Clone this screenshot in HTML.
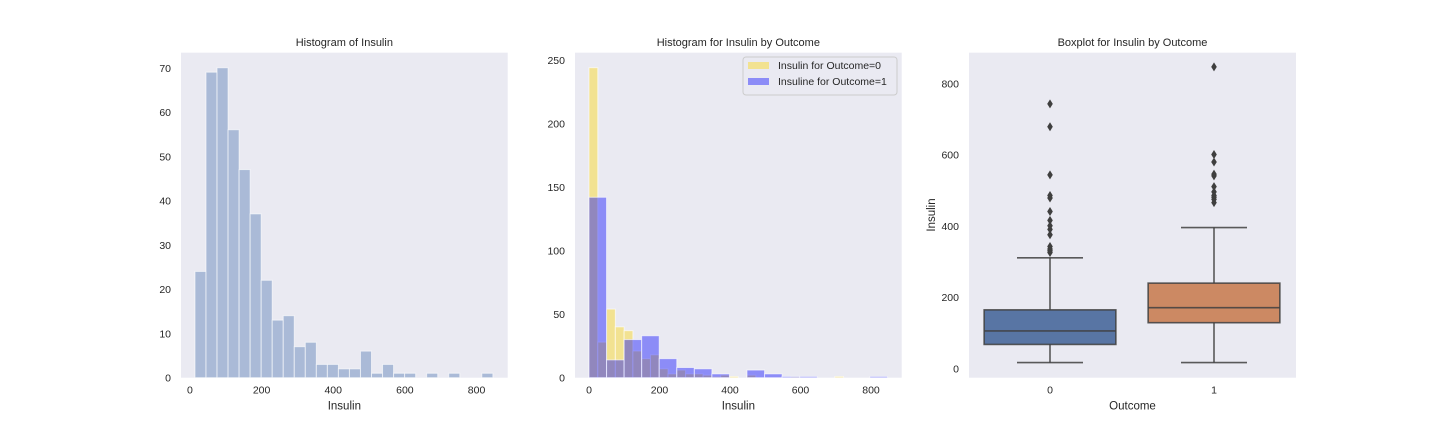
<!DOCTYPE html>
<html><head><meta charset="utf-8"><style>
body{margin:0;background:#fff;}
svg{display:block;font-family:"Liberation Sans","DejaVu Sans",sans-serif;}
</style></head><body>
<svg id="fig" width="1440" height="432" xmlns="http://www.w3.org/2000/svg"></svg>
<script>
// Panel 1 data
const h1Start = 14, h1Width = 30.8;
const h1Counts = [24,69,70,56,47,37,22,13,14,7,8,3,3,2,2,6,1,3,1,1,0,1,0,1,0,0,1];
// Panel 2 data
const h0Start = 0, h0Width = 24.9;
const h0Counts = [244,28,54,40,37,21,15,18,7,3,6,3,3,2,1,2,1,0,2,0,0,0,0,1,0,0,0,0,1,0];
const hbStart = 0, hbWidth = 49.8;
const hbCounts = [142,14,30,33,15,8,7,3,0,6,3,1,1,0,0,0,1];
// Panel 3 data
const boxCats = ["0","1"];
const boxQ1 = [67,128], boxMed = [105,170], boxQ3 = [164,239], boxLo = [16,16], boxHi = [310,395];
const outliers0 = [742,678,543,485,478,440,415,400,390,375,342,335,330,325];
const outliers1 = [846,600,579,545,540,510,495,485,480,474,465];
const ticks1x = [0,200,400,600,800], ticks1y = [0,10,20,30,40,50,60,70];
const ticks2y = [0,50,100,150,200,250], ticks3y = [0,200,400,600,800];

const NS="http://www.w3.org/2000/svg", svg=document.getElementById('fig');
function mk(tag,attrs,parent,text){const e=document.createElementNS(NS,tag);for(const k in attrs)e.setAttribute(k,attrs[k]);if(text!==undefined)e.textContent=text;(parent||svg).appendChild(e);return e;}
const TOP=52.7,BOT=377.7;
function axes(name,L,R,xmin,xmax,ymin,ymax){
  const g=mk('g',{});
  mk('rect',{x:L,y:TOP,width:R-L,height:BOT-TOP,fill:'#EAEAF2'},g);
  return {g,L,R,x:v=>L+(v-xmin)/(xmax-xmin)*(R-L),y:v=>BOT-(v-ymin)/(ymax-ymin)*(BOT-TOP)};
}
function xticks(a,ticks,labels){ticks.forEach((t,i)=>{const e=mk('text',{x:a.x(t),y:BOT+16,'font-size':10.5,fill:'#262626','text-anchor':'middle'},a.g,labels?labels[i]:t);});}
function yticks(a,ticks){ticks.forEach(t=>{const e=mk('text',{x:a.L-10,y:a.y(t)+4,'font-size':10.5,fill:'#262626','text-anchor':'end'},a.g,t);});}
function title(a,t){const e=mk('text',{x:(a.L+a.R)/2,y:46,'font-size':11,fill:'#262626','text-anchor':'middle'},a.g,t);}
function xlabel(a,t){const e=mk('text',{x:(a.L+a.R)/2,y:BOT+32,'font-size':11.5,fill:'#262626','text-anchor':'middle'},a.g,t);}
function bars(a,start,w,counts,fill,name){counts.forEach((c,i)=>{if(!c)return;const x0=a.x(start+i*w),x1=a.x(start+(i+1)*w);const r=mk('rect',{x:x0,y:a.y(c),width:x1-x0,height:a.y(0)-a.y(c),fill:fill,'fill-opacity':0.4,stroke:'#fff','stroke-opacity':0.6,'stroke-width':1},a.g);});}

// Panel 1
const a1=axes('histogram-insulin',181,507.7,-25,887,0,73.4);
bars(a1,h1Start,h1Width,h1Counts,'#4C72B0','hist-bar');
xticks(a1,ticks1x);yticks(a1,ticks1y);title(a1,'Histogram of Insulin');xlabel(a1,'Insulin');

// Panel 2
const a2=axes('histogram-insulin-by-outcome',575,901.7,-39.7,887,0,255.8);
bars(a2,h0Start,h0Width,h0Counts,'#FFD700','bar-outcome-0');
bars(a2,hbStart,hbWidth,hbCounts,'#0000FF','bar-outcome-1');
xticks(a2,ticks1x);yticks(a2,ticks2y);title(a2,'Histogram for Insulin by Outcome');xlabel(a2,'Insulin');
const lg=mk('g',{},a2.g);
mk('rect',{x:743,y:57,width:154,height:38,rx:3,fill:'#EAEAF2',stroke:'#cccccc','stroke-width':1},lg);
[['#FFD700','Insulin for Outcome=0',62],['#0000FF','Insuline for Outcome=1',78]].forEach(([c,t,y])=>{
  const e=mk('g',{},lg);
  mk('rect',{x:748,y:y,width:21,height:7,fill:c,'fill-opacity':0.4},e);
  mk('text',{x:778,y:y+7,'font-size':10.5,fill:'#262626'},e,t);
});

// Panel 3
const a3=axes('boxplot-insulin-by-outcome',969,1296,-26,886,0,0);
a3.y=v=>368.3-v*0.3563;
const cx=i=>1050+i*164, bw=131.7;
const fills=['#5875a4','#cc8963'];
const outs=[outliers0,outliers1];
boxCats.forEach((c,i)=>{
  const g=mk('g',{},a3.g);
  const st={stroke:'#3f3f3f','stroke-width':1.6,'stroke-opacity':0.85};
  mk('line',Object.assign({x1:cx(i),x2:cx(i),y1:a3.y(boxLo[i]),y2:a3.y(boxQ1[i])},st),g);
  mk('line',Object.assign({x1:cx(i),x2:cx(i),y1:a3.y(boxQ3[i]),y2:a3.y(boxHi[i])},st),g);
  mk('line',Object.assign({x1:cx(i)-33,x2:cx(i)+33,y1:a3.y(boxLo[i]),y2:a3.y(boxLo[i])},st),g);
  mk('line',Object.assign({x1:cx(i)-33,x2:cx(i)+33,y1:a3.y(boxHi[i]),y2:a3.y(boxHi[i])},st),g);
  mk('rect',Object.assign({x:cx(i)-bw/2,y:a3.y(boxQ3[i]),width:bw,height:a3.y(boxQ1[i])-a3.y(boxQ3[i]),fill:fills[i]},st),g);
  mk('line',Object.assign({x1:cx(i)-bw/2,x2:cx(i)+bw/2,y1:a3.y(boxMed[i]),y2:a3.y(boxMed[i])},st),g);
  outs[i].forEach(v=>{const y=a3.y(v);const p=mk('polygon',{points:`${cx(i)},${y-4.5} ${cx(i)+2.8},${y} ${cx(i)},${y+4.5} ${cx(i)-2.8},${y}`,fill:'#3f3f3f'},g);});
});
boxCats.forEach((c,i)=>{const e=mk('text',{x:cx(i),y:BOT+16,'font-size':10.5,fill:'#262626','text-anchor':'middle'},a3.g,c);});
yticks(a3,ticks3y);title(a3,'Boxplot for Insulin by Outcome');xlabel(a3,'Outcome');
const yl=mk('text',{x:935,y:215,'font-size':11.5,fill:'#262626','text-anchor':'middle',transform:'rotate(-90 935 215)'},a3.g,'Insulin');

</script>
</body></html>
